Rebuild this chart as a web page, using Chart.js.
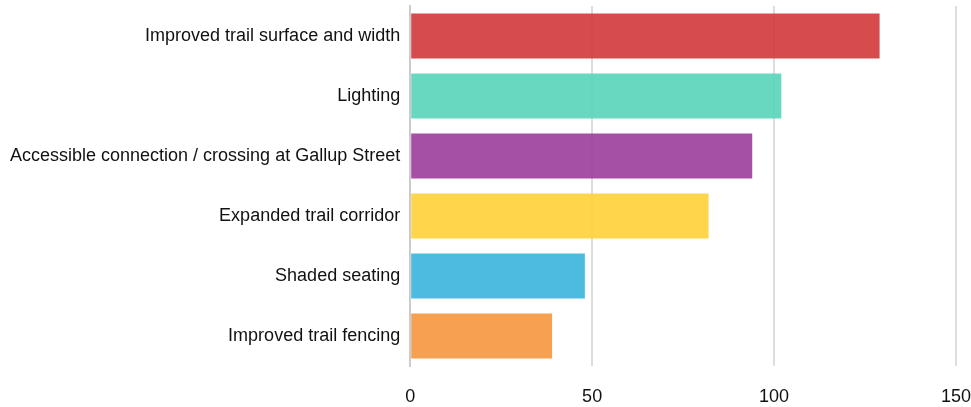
<!DOCTYPE html>
<html lang="en">
<head>
    <meta charset="UTF-8">
    <title>Trail improvements</title>
    <script src="https://cdn.jsdelivr.net/npm/chart.js"></script>
    <style>
        body {
            margin: 0;
            background: #fff;
        }
        .grafico-container {
            width: 971px;
            height: 407px;
        }
    </style>
</head>
<body>
    <div class="grafico-container">
        <canvas id="grafico"></canvas>
    </div>

    <script>
        const categories = [
            'Improved trail surface and width',
            'Lighting',
            'Accessible connection / crossing at Gallup Street',
            'Expanded trail corridor',
            'Shaded seating',
            'Improved trail fencing'
        ];
        const votes = [129, 102, 94, 82, 48, 39];
        const xTicks = [0, 50, 100, 150];
        const barColors = [
            'rgba(209, 56, 58, 0.9)',
            'rgba(89, 212, 186, 0.9)',
            'rgba(155, 60, 155, 0.9)',
            'rgba(255, 208, 57, 0.9)',
            'rgba(58, 178, 221, 0.9)',
            'rgba(245, 150, 62, 0.9)'
        ];

        const fonte = { family: '"Liberation Sans", Arial, sans-serif', size: 18 };

        new Chart(document.getElementById('grafico').getContext('2d'), {
            type: 'bar',
            data: {
                labels: categories,
                datasets: [{
                    data: votes,
                    backgroundColor: barColors,
                    borderWidth: 0,
                    barPercentage: 0.75,
                    categoryPercentage: 1
                }]
            },
            options: {
                indexAxis: 'y',
                responsive: true,
                maintainAspectRatio: false,
                animation: false,
                layout: { padding: { top: 6, right: 15, left: 0, bottom: 1 } },
                plugins: {
                    legend: { display: false },
                    tooltip: { enabled: false }
                },
                scales: {
                    x: {
                        min: 0,
                        max: 150,
                        afterBuildTicks: axis => { axis.ticks = xTicks.map(v => ({ value: v })); },
                        afterFit: axis => { axis.paddingRight = 0; axis.height = 40; },
                        grid: { color: '#dddddd', lineWidth: 2, drawTicks: false },
                        border: { display: false },
                        ticks: { color: '#111', font: fonte, padding: 20 }
                    },
                    y: {
                        afterFit: axis => { axis.paddingTop = 0; axis.paddingBottom = 0; },
                        grid: { display: false, drawTicks: false },
                        border: { display: true, color: '#cccccc', width: 2 },
                        ticks: { color: '#111', font: fonte, padding: 10 }
                    }
                }
            }
        });
    </script>
</body>
</html>
